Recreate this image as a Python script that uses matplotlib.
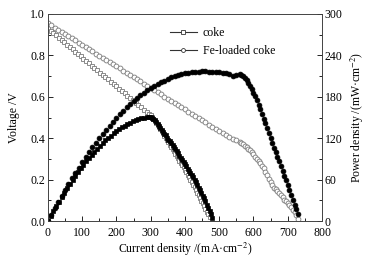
import matplotlib
matplotlib.use("Agg")
import matplotlib.pyplot as plt
from matplotlib.lines import Line2D
from matplotlib.ticker import MultipleLocator, FormatStrFormatter

plt.rcParams['font.family'] = ['Liberation Serif', 'DejaVu Serif']
plt.rcParams['mathtext.fontset'] = 'stix'

# coke: current density (mA/cm2), voltage (V), power density (mW/cm2)
coke_current = [0, 8, 16, 24, 32, 40, 48, 56, 64, 72, 80, 88, 96, 104, 112, 120,
                128, 136, 144, 152, 160, 168, 176, 184, 192, 200, 208, 216, 224,
                232, 240, 248, 256, 264, 272, 280, 288, 296,
                300, 304, 308, 312, 316, 320, 324, 328, 332, 336, 340, 344, 348,
                352, 356, 360, 364, 368, 372, 376, 380, 384, 388, 392, 396, 400,
                404, 408, 412, 416, 420, 424, 428, 432, 436, 440, 444, 448, 452,
                456, 460, 464, 468, 472, 476, 480]
coke_voltage = [0.930, 0.919, 0.908, 0.896, 0.885, 0.874, 0.863, 0.852, 0.840,
                0.829, 0.818, 0.807, 0.796, 0.784, 0.773, 0.762, 0.751, 0.740,
                0.728, 0.717, 0.706, 0.695, 0.684, 0.672, 0.661, 0.650, 0.639,
                0.628, 0.616, 0.605, 0.594, 0.583, 0.572, 0.560, 0.549, 0.538,
                0.527, 0.516,
                0.510, 0.502, 0.493, 0.483, 0.474, 0.464, 0.454, 0.444, 0.434,
                0.424, 0.413, 0.402, 0.391, 0.380, 0.369, 0.358, 0.347, 0.336,
                0.325, 0.314, 0.303, 0.292, 0.281, 0.270, 0.259, 0.248, 0.236,
                0.224, 0.212, 0.200, 0.188, 0.176, 0.163, 0.150, 0.137, 0.124,
                0.111, 0.098, 0.085, 0.072, 0.059, 0.046, 0.033, 0.020, None, None]
coke_power = [0, 7.4, 14.5, 21.5, 28.3, 35.0, 41.4, 47.7, 53.8, 59.7, 65.4, 71.0,
              76.4, 81.5, 86.6, 91.4, 96.1, 100.6, 104.8, 109.0, 113.0, 116.8,
              120.4, 123.6, 126.9, 130.0, 132.9, 135.6, 138.0, 140.4, 142.6, 144.6,
              146.4, 147.8, 149.0, 149.8, 150.2, 150.4,
              150.2, 149.5, 148.0, 146.0, 143.3, 140.5, 137.8, 135.0, 132.3, 129.5,
              126.8, 124.0, 121.0, 118.0, 115.3, 112.5, 109.8, 107.0, 104.0, 101.0,
              98.0, 95.0, 92.0, 89.0, 85.8, 82.5, 79.3, 76.0, 73.0, 70.0, 66.8,
              63.5, 59.8, 56.0, 52.3, 48.5, 44.8, 41.0, 37.0, 33.0, 28.5, 24.0,
              19.5, 15.0, 10.0, 5.0]

# Fe-loaded coke
fe_current = [0, 10, 20, 30, 40, 50, 60, 70, 80, 90, 100, 110, 120, 130, 140, 150,
              160, 170, 180, 190, 200, 210, 220, 230, 240, 250, 260, 270, 280, 290,
              300, 310, 320, 330, 340, 350, 360, 370, 380, 390, 400, 410, 420, 430,
              440, 450, 460, 470, 480, 490, 500, 510, 520, 530, 540, 550,
              560, 565, 570, 575, 580, 585, 590, 595, 600, 605, 610, 615, 620, 625,
              630, 635, 640, 645, 650, 655, 660, 665, 670, 675, 680, 685, 690, 695,
              700, 705, 710, 715, 720, 725, 730]
fe_voltage = [0.955, 0.945, 0.934, 0.924, 0.913, 0.903, 0.893, 0.882, 0.872, 0.861,
              0.851, 0.841, 0.830, 0.820, 0.809, 0.799, 0.789, 0.778, 0.768, 0.757,
              0.747, 0.737, 0.726, 0.716, 0.705, 0.695, 0.685, 0.674, 0.664, 0.653,
              0.643, 0.633, 0.622, 0.612, 0.601, 0.591, 0.581, 0.570, 0.560, 0.549,
              0.539, 0.529, 0.518, 0.508, 0.497, 0.487, 0.477, 0.466, 0.456, 0.445,
              0.435, 0.425, 0.414, 0.404, 0.396, 0.390,
              0.382, 0.376, 0.370, 0.364, 0.357, 0.350, 0.343, 0.333, 0.322, 0.311,
              0.300, 0.290, 0.280, 0.268, 0.255, 0.239, 0.222, 0.205, 0.188, 0.175,
              0.162, 0.153, 0.145, 0.135, 0.125, 0.115, 0.104, 0.095, 0.085, 0.076,
              0.066, 0.056, 0.045, 0.030, 0.012]
fe_power = [0, 9.5, 18.7, 27.7, 36.5, 45.2, 53.6, 61.7, 69.8, 77.5, 85.1, 92.5,
            99.6, 106.6, 113.3, 119.9, 126.2, 132.3, 138.2, 143.8, 149.4, 154.8,
            159.7, 164.7, 169.2, 173.8, 178.1, 182.0, 185.9, 189.4, 192.9, 196.2,
            199.0, 201.5, 203.4, 205.9, 208.0, 209.8, 211.5, 212.8, 214.0, 215.0,
            215.8, 216.3, 216.6, 216.8, 216.8, 216.6, 216.3, 215.9, 215.5, 214.8,
            214.0, 213.0, 210.0, 211.5,
            213.0, 212.0, 210.0, 207.5, 204.0, 200.0, 196.0, 191.0, 186.0, 180.5,
            175.0, 168.5, 162.0, 155.0, 148.0, 141.5, 135.0, 127.5, 120.0, 113.0,
            106.0, 99.5, 93.0, 86.5, 80.0, 73.0, 66.0, 59.0, 52.0, 45.0, 38.0,
            31.0, 24.0, 17.0, 10.0]

fig = plt.figure(figsize=(3.68, 2.58), dpi=100)
ax = fig.add_axes([0.130, 0.143, 0.745, 0.803])
ax2 = ax.twinx()

grey = '#7a7a7a'
ax.plot(coke_current, coke_voltage, ls='none', marker='s', ms=3.3,
        mfc='white', mec=grey, mew=0.6)
ax.plot(fe_current, fe_voltage, ls='none', marker='o', ms=3.5,
        mfc='white', mec=grey, mew=0.6)
ax2.plot(coke_current, coke_power, ls='none', marker='s', ms=3.3,
         mfc='black', mec='black', mew=0.5)
ax2.plot(fe_current, fe_power, ls='none', marker='o', ms=3.5,
         mfc='black', mec='black', mew=0.5)

ax.set_xlim(0, 800)
ax.set_ylim(0, 1.0)
ax2.set_ylim(0, 300)
ax.xaxis.set_major_locator(MultipleLocator(100))
ax.xaxis.set_minor_locator(MultipleLocator(50))
ax.yaxis.set_major_locator(MultipleLocator(0.2))
ax.yaxis.set_minor_locator(MultipleLocator(0.1))
ax2.yaxis.set_major_locator(MultipleLocator(60))
ax2.yaxis.set_minor_locator(MultipleLocator(30))
ax.yaxis.set_major_formatter(FormatStrFormatter('%.1f'))

for a in (ax, ax2):
    a.tick_params(which='both', direction='in', labelsize=8.5, pad=2)
    a.tick_params(which='major', length=3.5, width=0.6)
    a.tick_params(which='minor', length=2, width=0.6)
    for s in a.spines.values():
        s.set_linewidth(0.6)
        s.set_color('#444444')
ax.tick_params(axis='x', which='both', pad=4.5)

ax.set_xlabel('Current density /(mA·cm$^{-2}$)', fontsize=8.5, labelpad=1)
ax.set_ylabel('Voltage /V', fontsize=8.5, labelpad=7)
ax2.set_ylabel('Power density /(mW·cm$^{-2}$)', fontsize=8.5, labelpad=4)

handles = [Line2D([], [], color='#333333', lw=0.8, marker='s', ms=2.8,
                  mfc='white', mec='#333333', mew=0.6),
           Line2D([], [], color='#333333', lw=0.8, marker='o', ms=2.8,
                  mfc='white', mec='#333333', mew=0.6)]
ax.legend(handles, ['coke', 'Fe-loaded coke'], loc='upper left',
          bbox_to_anchor=(0.445, 0.937), frameon=False, fontsize=8.5,
          handlelength=2.3, handletextpad=0.5, labelspacing=0.5,
          borderpad=0, borderaxespad=0)

fig.savefig('out.png', dpi=100)
